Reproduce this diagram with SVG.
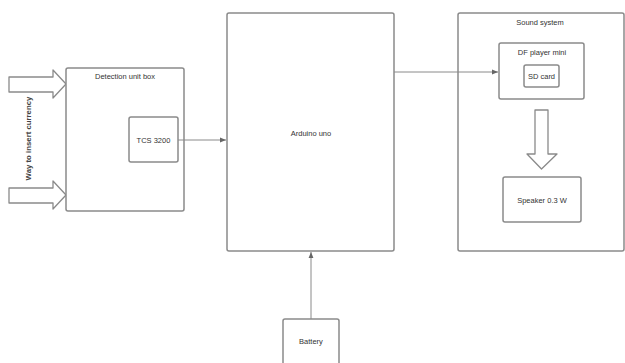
<svg xmlns="http://www.w3.org/2000/svg" width="625" height="363" viewBox="0 0 625 363">
<defs>
<style>
.box{fill:#fff;stroke:#8a8a8a;stroke-width:1.5}
.blk{fill:#fff;stroke:#8a8a8a;stroke-width:1.3;stroke-linejoin:round}
.t{font-family:"Liberation Sans",Arial,sans-serif;font-size:7.5px;fill:#333;text-anchor:middle}
.tb{font-family:"Liberation Sans",Arial,sans-serif;font-size:7.8px;font-weight:bold;fill:#444;text-anchor:middle}
.ln{stroke:#8a8a8a;stroke-width:1;fill:none}
</style>
<marker id="ah" viewBox="0 0 10 10" refX="10" refY="5" markerWidth="6" markerHeight="6" orient="auto" markerUnits="userSpaceOnUse">
<path d="M0,1 L10,5 L0,9 Z" fill="#666"/>
</marker>
</defs>
<rect width="625" height="363" fill="#fff"/>
<g id="currency-input">
<polygon class="blk" points="9,77 53,77 53,70 66,84 53,98 53,92 9,92"/>
<polygon class="blk" points="9,188 53,188 53,181 66,195 53,209 53,203 9,203"/>
<text class="tb" transform="translate(31,138.5) rotate(-90)">Way to insert currency</text>
</g>
<g id="detection">
<rect class="box" x="66" y="68" width="118" height="143" rx="2"/>
<text class="t" x="125" y="79">Detection unit box</text>
</g>
<g id="tcs">
<rect class="box" x="129" y="117" width="49" height="45" rx="2"/>
<text class="t" x="153.5" y="142.5">TCS 3200</text>
</g>
<g id="arduino">
<rect class="box" x="227" y="13" width="167" height="238" rx="2"/>
<text class="t" x="311" y="135.5">Arduino uno</text>
</g>
<g id="sound">
<rect class="box" x="458" y="13" width="166" height="238" rx="2"/>
<text class="t" x="540" y="25">Sound system</text>
</g>
<g id="dfplayer">
<rect class="box" x="499" y="43" width="85" height="56" rx="2"/>
<text class="t" x="542" y="55">DF player mini</text>
</g>
<g id="sdcard">
<rect class="box" x="524" y="65" width="35" height="22" rx="2"/>
<text class="t" x="541.5" y="78.5">SD card</text>
</g>
<g id="flow-arrow">
<polygon class="blk" points="535,110 548,110 548,154 557,154 541.5,169 527,154 535,154"/>
</g>
<g id="speaker">
<rect class="box" x="503" y="177" width="78" height="45" rx="2"/>
<text class="t" x="542" y="202.5">Speaker 0.3 W</text>
</g>
<g id="battery">
<rect class="box" x="283" y="319" width="56" height="50" rx="2"/>
<text class="t" x="311" y="343.5">Battery</text>
</g>
<g id="connectors">
<line class="ln" x1="178" y1="140" x2="226" y2="140" marker-end="url(#ah)"/>
<line class="ln" x1="394" y1="72" x2="498" y2="72" marker-end="url(#ah)"/>
<line class="ln" x1="311" y1="319" x2="311" y2="252" marker-end="url(#ah)"/>
</g>
</svg>
